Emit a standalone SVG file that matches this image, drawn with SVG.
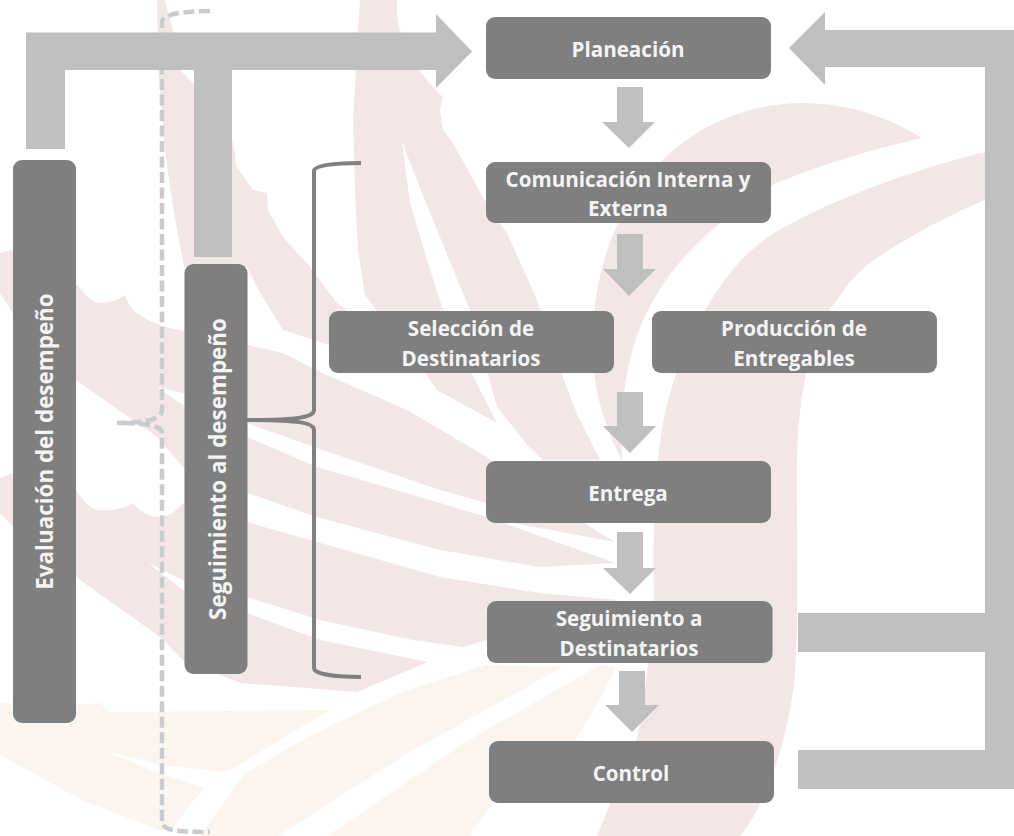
<svg xmlns="http://www.w3.org/2000/svg" width="1014" height="836" viewBox="0 0 1014 836">
<defs><filter id="soft" x="-5%" y="-5%" width="110%" height="110%"><feGaussianBlur stdDeviation="0.7"/></filter></defs>
<style>
.pk{fill:#f3e6e6}
.cr{fill:#fbf5ee}
.box{fill:#7f7f7f}
.ar{fill:#bfbfbf}
.t{font-family:"Open Sans","Liberation Sans",sans-serif;font-weight:700;font-size:20.600px;fill:#f4f4f4;text-anchor:middle}
.v{font-size:22.400px}
.br{fill:none;stroke:#808080;stroke-width:4}
.ds{fill:none;stroke:#c9cbcd;stroke-width:4.5;stroke-dasharray:11 4.5}
</style>
<rect width="1014" height="836" fill="#fff"/>
<g id="watermark" filter="url(#soft)">
<path class="pk" d="M922 138C880 112 840 103 800 103C720 105 650 150 615 230C600 265 594 300 592 340C592 390 606 430 622 460C620 420 624 380 632 352C640 320 660 285 680 262C712 225 750 200 774 184C820 165 870 150 922 138Z"/>
<path class="pk" d="M985 152C920 168 840 195 774 233C740 255 720 285 707 307C685 345 672 380 664 418C656 460 652 520 654 600C650 650 645 700 637 738L597 836H740C765 805 785 750 794 685C800 620 796 520 797 460C798 400 810 330 837 300C850 280 860 270 874 260C910 235 950 215 985 200Z"/>
<path class="pk" d="M360 0H397V15C400 50 425 80 443 97L440 110L443 130L453 143L490 210L507 233L537 300L560 370L577 414L600 460H543L530 448L497 407L470 310L437 230L413 170L402 142L410 203L427 260L443 310L470 370L497 423L437 390L423 370L377 311L365 295L358 250L355 190L353 120Z"/>
<path class="pk" d="M157 0H165L168 13L173 30L180 70L193 83L233 143L237 167L253 190L267 193L268 210L283 237L307 263L337 303L347 311V345H329L314 340L283 330L260 293L247 267H184L173 207L165 150L158 67Z"/>
<path class="pk" d="M0 253L13 250L76 283C84 294 92 303 100 303C110 303 118 300 125 295C128 305 134 312 140 315C155 325 168 328 180 330L248 345L283 353L320 372L407 410L487 457L530 490L615 542L513 523L487 503L440 490L317 448L247 423L183 393L157 387L183 405L247 437L317 467L440 503L487 517L615 563L540 567L440 550L317 517L247 493L183 467L157 437L76 380L13 313L0 293Z"/>
<path class="pk" d="M0 478L13 473L76 490C84 503 92 510 100 510C114 511 125 508 133 503C140 512 150 517 160 517C170 516 178 510 183 503L247 522L317 542L440 577L540 593L617 600L487 640L463 647L413 640L320 620L247 597L187 582L148 563L187 593L247 613L320 640L428 662L357 692L240 683L183 660L160 637L80 580L13 527L0 513Z"/>
<path class="cr" d="M0 703L76 705L100 703L110 712L330 710L227 772L163 765L108 752L163 775L204 788L171 830L159 830L82 800L0 755Z"/>
<path class="cr" d="M486 665L563 667L408 753L278 836H200L245 773L327 727L408 690Z"/>
<path class="cr" d="M600 665L616 667L600 700L575 740L551 757L490 807L469 836H327L469 740Z"/>
</g>
<g id="connectors">
<path class="ds" d="M210 11C185 11 162 14 162 22V410C162 418 150 423 117 423C150 423 162 426 162 434V820C162 830 172 832 210 832"/>
<path class="br" d="M361 163C335 163 314 165 314 171V410C314 417 300 420 247 420C300 420 314 423 314 430V668C314 674 335 677 361 677"/>
<path class="ar" d="M26 149V32.500H436V14L472 51.500L436 88V70H232V257H194V70H65V149Z"/>
<path class="ar" d="M789 48L825 12V30H1014V789H798V750H985V652H798V613H985V67H825V85Z"/>
<path class="ar" d="M617 87H643V122H655L629 148L602 122H617Z"/>
<path class="ar" d="M617 234H643V269H656L629 296L603 269H617Z"/>
<path class="ar" d="M617 392H643V426H656L630 453L603 426H617Z"/>
<path class="ar" d="M617 532H643V568H656L630 594L603 568H617Z"/>
<path class="ar" d="M619 671H645V705H659L632 732L605 705H619Z"/>
</g>
<g id="n-planeacion"><rect class="box" x="486" y="17" width="285" height="62" rx="9"/><text class="t" x="628" y="57">Planeación</text></g>
<g id="n-comunicacion"><rect class="box" x="486" y="162" width="285" height="61" rx="9"/><text class="t" x="628" y="187">Comunicación Interna y</text><text class="t" x="628" y="216">Externa</text></g>
<g id="n-seleccion"><rect class="box" x="329" y="311" width="285" height="62" rx="9"/><text class="t" x="471" y="336">Selección de</text><text class="t" x="471" y="366">Destinatarios</text></g>
<g id="n-produccion"><rect class="box" x="652" y="311" width="285" height="62" rx="9"/><text class="t" x="794" y="336">Producción de</text><text class="t" x="794" y="366">Entregables</text></g>
<g id="n-entrega"><rect class="box" x="486" y="461" width="285" height="62" rx="9"/><text class="t" x="628" y="501">Entrega</text></g>
<g id="n-seguimiento-dest"><rect class="box" x="487" y="601" width="285.500" height="62" rx="9"/><text class="t" x="629" y="626">Seguimiento a</text><text class="t" x="629" y="656">Destinatarios</text></g>
<g id="n-control"><rect class="box" x="489" y="741" width="285" height="62" rx="9"/><text class="t" x="631" y="781">Control</text></g>
<g id="n-evaluacion"><rect class="box" x="13" y="160" width="63" height="563" rx="9"/><text class="t v" transform="translate(53 441.500) rotate(-90)">Evaluación del desempeño</text></g>
<g id="n-seguimiento-des"><rect class="box" x="184.500" y="264" width="63" height="410" rx="9"/><text class="t v" transform="translate(226 469) rotate(-90)">Seguimiento al desempeño</text></g>
</svg>
